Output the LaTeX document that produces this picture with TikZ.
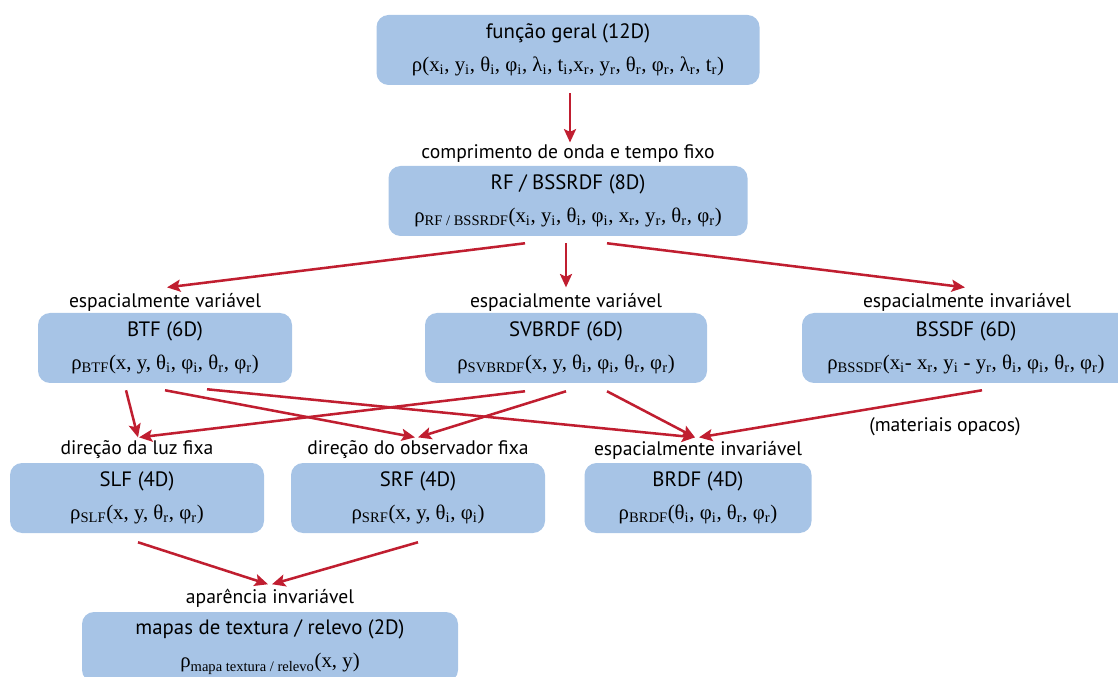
\documentclass[tikz,border=0pt]{standalone}
\usepackage{fontspec}
\setmainfont{PT Sans}
\newfontfamily\fml{Liberation Serif}
\usepackage{tikz}
\usetikzlibrary{arrows.meta,calc}

\definecolor{boxblue}{RGB}{167,196,230}
\definecolor{arrowred}{RGB}{192,30,48}
\newcommand{\lowr}[1]{\textsubscript{#1}}
\newcommand{\ttl}{\fontsize{15.6}{17}\selectfont}
\newcommand{\fm}{\fml\fontsize{15.6}{17}\selectfont}

\tikzset{
  box/.style={fill=boxblue, rounded corners=9pt, align=center, inner sep=0pt,
    minimum width=#1*0.75pt, minimum height=52.5pt},
  lbl/.style={inner sep=1pt},
  arr/.style={draw=arrowred, line width=1.9pt, -{Stealth[length=10pt,width=9pt,inset=2pt]}}
}

\begin{document}
\begin{tikzpicture}[x=0.75pt,y=-0.75pt,font=\fontsize{14.7}{17}\selectfont]
\useasboundingbox (0,0) rectangle (1118,677);

% LEVEL 12D
  \node[box=383] (top) at (568,50) {{\ttl funç\~ao geral (12D)}\\[8pt]
    {\fm ρ(x\lowr{i}, y\lowr{i}, θ\lowr{i}, φ\lowr{i}, λ\lowr{i}, t\lowr{i},x\lowr{r}, y\lowr{r}, θ\lowr{r}, φ\lowr{r}, λ\lowr{r}, t\lowr{r})}};

% LEVEL 8D
  \node[lbl] (lrf) at (568,154) {comprimento de onda e tempo fixo};
  \node[box=359] (rf) at (568,201) {{\ttl RF / BSSRDF (8D)}\\[8pt]
    {\fm ρ\lowr{RF / BSSRDF}(x\lowr{i}, y\lowr{i}, θ\lowr{i}, φ\lowr{i}, x\lowr{r}, y\lowr{r}, θ\lowr{r}, φ\lowr{r})}};

% LEVEL 6D
  \node[lbl] (lbtf) at (165,302) {espacialmente variável};
  \node[box=254] (btf) at (165,348) {{\ttl BTF (6D)}\\[8pt]
    {\fm ρ\lowr{BTF}(x, y, θ\lowr{i}, φ\lowr{i}, θ\lowr{r}, φ\lowr{r})}};

  \node[lbl] (lsv) at (566,302) {espacialmente variável};
  \node[box=282] (sv) at (566,348) {{\ttl SVBRDF (6D)}\\[8pt]
    {\fm ρ\lowr{SVBRDF}(x, y, θ\lowr{i}, φ\lowr{i}, θ\lowr{r}, φ\lowr{r})}};

  \node[lbl] (lbss) at (967,302) {espacialmente invariável};
  \node[box=328] (bss) at (966,348) {{\ttl BSSDF (6D)}\\[8pt]
    {\fm ρ\lowr{BSSDF}(x\lowr{i}- x\lowr{r}, y\lowr{i} - y\lowr{r}, θ\lowr{i}, φ\lowr{i}, θ\lowr{r}, φ\lowr{r})}};

% LEVEL 4D
  \node[lbl] (lslf) at (137,450) {direç\~ao da luz fixa};
  \node[box=254] (slf) at (137,498) {{\ttl SLF (4D)}\\[8pt]
    {\fm ρ\lowr{SLF}(x, y, θ\lowr{r}, φ\lowr{r})}};

  \node[lbl] (lsrf) at (418,450) {direç\~ao do observador fixa};
  \node[box=254] (srf) at (418,498) {{\ttl SRF (4D)}\\[8pt]
    {\fm ρ\lowr{SRF}(x, y, θ\lowr{i}, φ\lowr{i})}};

  \node[lbl] (lbrdf) at (698,450) {espacialmente invariável};
  \node[box=227] (brdf) at (698,498) {{\ttl BRDF (4D)}\\[8pt]
    {\fm ρ\lowr{BRDF}(θ\lowr{i}, φ\lowr{i}, θ\lowr{r}, φ\lowr{r})}};

  \node[lbl] (opac) at (945,427) {(materiais opacos)};

% LEVEL 2D
  \node[lbl] (lmap) at (270,598) {aparência invariável};
  \node[box=376] (map) at (270,647) {{\ttl mapas de textura / relevo (2D)}\\[8pt]
    {\fm ρ\lowr{mapa textura / relevo}(x, y)}};

% ARROWS
  \draw[arr] ($(top.south)+(2,8)$) -- ($(lrf.north)+(2,-1)$);

  \draw[arr] ($(rf.south)+(-43,7)$) -- ($(lbtf.north)+(2,-4)$);
  \draw[arr] ($(rf.south)+(-2,7)$)  -- ($(lsv.north)+(0,-4)$);
  \draw[arr] ($(rf.south)+(39,7)$)  -- ($(lbss.north)+(-2,-4)$);

  \draw[arr] ($(btf.south)+(-39,7)$) -- ($(lslf.north)+(1,-2)$);
  \draw[arr] ($(btf.south)+(0,7)$)   -- ($(lsrf.north)+(-3,-2)$);
  \draw[arr] ($(btf.south)+(42,6)$)  -- ($(lbrdf.north)+(-3,-2)$);

  \draw[arr] ($(sv.south)+(-41,8)$) -- ($(lslf.north)+(2,-2)$);
  \draw[arr] ($(sv.south)+(0,8)$)   -- ($(lsrf.north)+(0,-2)$);
  \draw[arr] ($(sv.south)+(41,8)$)  -- ($(lbrdf.north)+(-3,-2)$);

  \draw[arr] ($(bss.south)+(16,7)$) -- ($(lbrdf.north)+(1,-2)$);

  \draw[arr] ($(slf.south)+(1,9)$) -- ($(lmap.north)+(-2,-3)$);
  \draw[arr] ($(srf.south)+(0,9)$) -- ($(lmap.north)+(2,-3)$);

\end{tikzpicture}
\end{document}
